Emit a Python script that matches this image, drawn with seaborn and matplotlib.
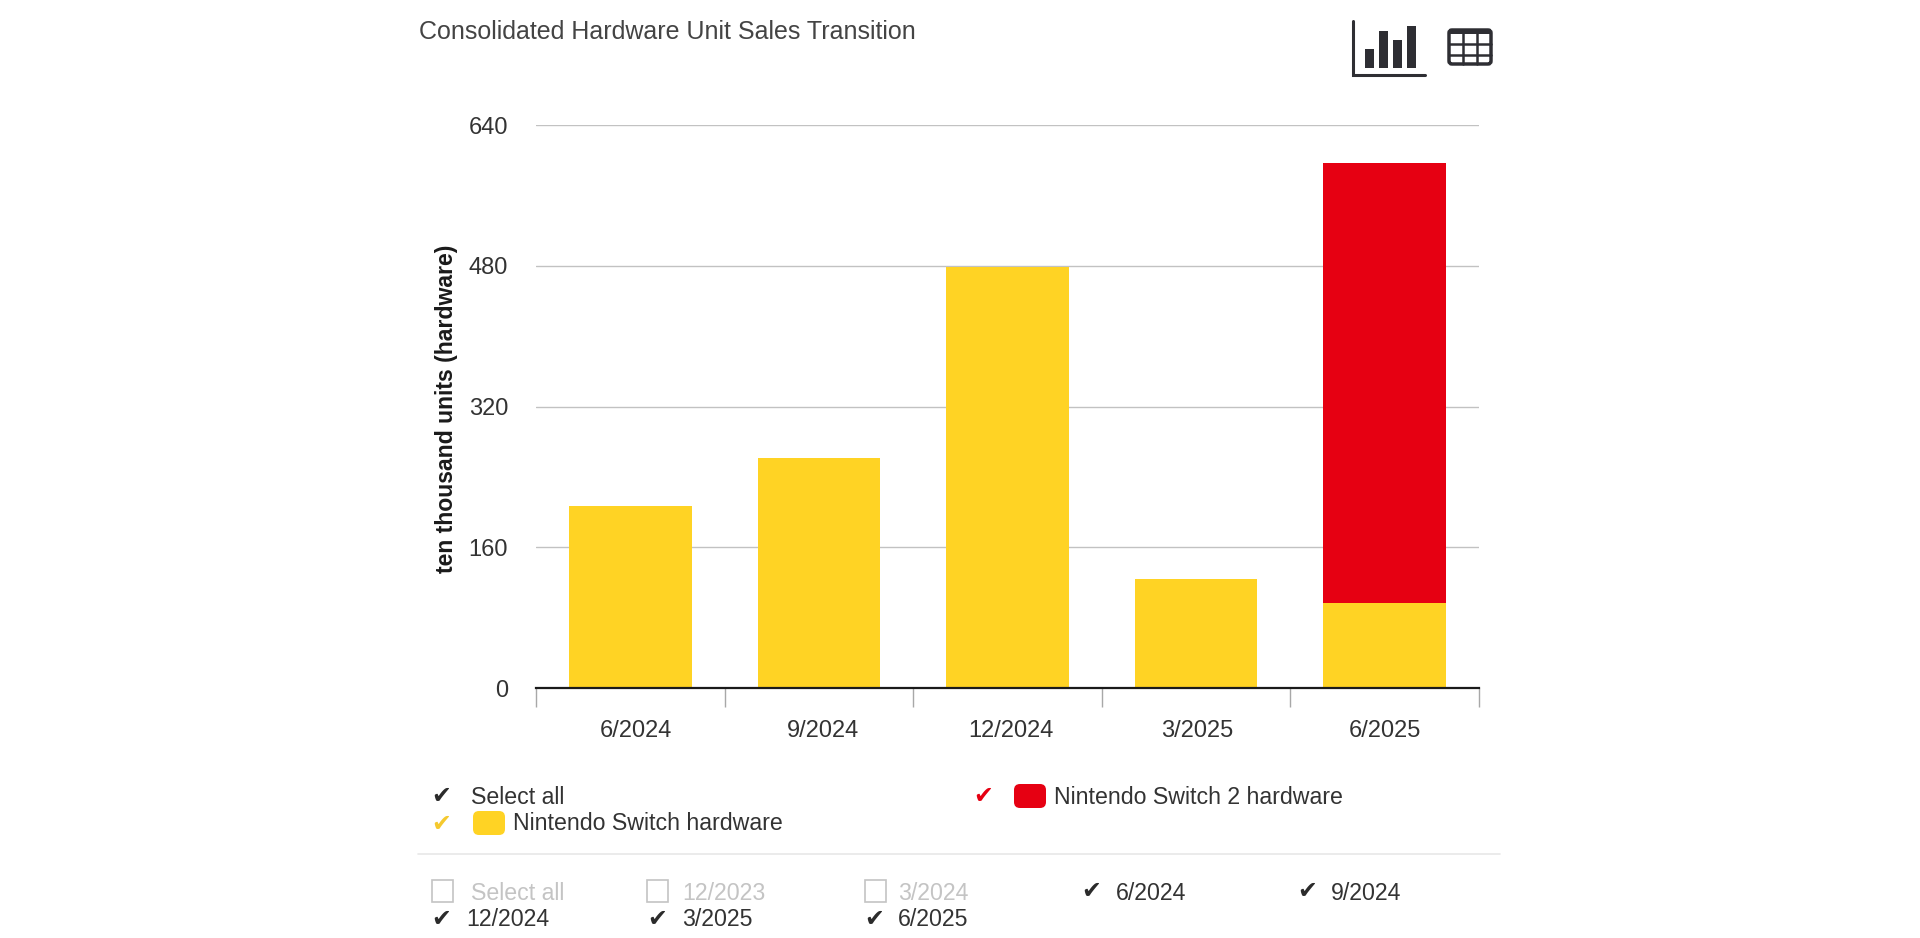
import matplotlib
matplotlib.use("Agg")
import matplotlib.pyplot as plt
from matplotlib.patches import FancyBboxPatch, Rectangle
from matplotlib.ticker import FixedLocator
import pandas as pd
import seaborn as sns

periods = ["6/2024", "9/2024", "12/2024", "3/2025", "6/2025"]
switch_units = [207, 262, 479, 124, 97]
switch2_units = [0, 0, 0, 0, 500]
y_ticks = [0, 160, 320, 480, 640]

title = "Consolidated Hardware Unit Sales Transition"
y_label = "ten thousand units (hardware)"
switch_label = "Nintendo Switch hardware"
switch2_label = "Nintendo Switch 2 hardware"
select_all = "Select all"
off_periods = ["12/2023", "3/2024"]

YELLOW = "#FFD324"
RED = "#E60012"
DARK = "#333333"
CHECK = "#2B2B2B"
FADED = "#C4C4C4"
W, H = 1920, 938

sns.set_theme(style="white")
plt.rcParams["font.family"] = ["Liberation Sans", "DejaVu Sans"]

df = pd.DataFrame({"period": periods, "switch": switch_units, "switch2": switch2_units})
df["total"] = df["switch"] + df["switch2"]

fig = plt.figure(figsize=(W / 100, H / 100), dpi=100, facecolor="white")
ax = fig.add_axes([536 / W, 1 - 688 / H, 943 / W, 563 / H])

# stacked look: the total in red, then the Switch part over it
sns.barplot(data=df, x="period", y="total", color=RED, saturation=1, width=0.65, linewidth=0, ax=ax, zorder=3)
sns.barplot(data=df, x="period", y="switch", color=YELLOW, saturation=1, width=0.65, linewidth=0, ax=ax, zorder=4)

ax.set_xlim(-0.5, 4.5)
ax.set_ylim(0, 640)
ax.set_yticks(y_ticks)
ax.yaxis.grid(True, color="#C2C2C2", linewidth=1.0, zorder=0)
ax.set_xlabel("")
ax.set_ylabel("")
# the labels sit a touch right of the bar centres, most at the left end
ax.set_xticks([i + (4 - i) * 0.008 for i in range(len(periods))], labels=periods)
ax.xaxis.set_minor_locator(FixedLocator([i - 0.5 for i in range(len(periods) + 1)]))
ax.tick_params(axis="x", which="major", length=0, pad=23, labelsize=17, labelcolor=DARK)
ax.tick_params(axis="x", which="minor", bottom=True, length=13.5, width=1, color="#A8A8A8")
ax.tick_params(axis="y", length=0, pad=20, labelsize=17, labelcolor=DARK)
for side in ["top", "right", "left"]:
    ax.spines[side].set_visible(False)
ax.spines["bottom"].set_color("#1A1A1A")
ax.spines["bottom"].set_linewidth(1.6)
ax.spines["bottom"].set_zorder(6)

# everything around the chart, placed in pixels
ui = fig.add_axes([0, 0, 1, 1], facecolor="none")
ui.set_xlim(0, W)
ui.set_ylim(H, 0)
ui.axis("off")


def label(x, y, text, color=DARK, **kw):
    ui.text(x, y, text, color=color, va="center", ha=kw.pop("ha", "left"), fontsize=kw.pop("fontsize", 16.7), **kw)


def check(x, y, color=CHECK):
    ui.text(x, y + 2, "\u2714", color=color, ha="center", va="center", fontsize=17, family="DejaVu Sans")


def swatch(x, y, color):
    ui.add_patch(FancyBboxPatch((x, y - 12), 32, 24, boxstyle="round,pad=0,rounding_size=6",
                                linewidth=0, facecolor=color))


def empty_box(x, y):
    ui.add_patch(Rectangle((x + 1, y - 11), 21, 22, facecolor="white", edgecolor=FADED, linewidth=1.2))


label(419, 32, title, color="#444444", fontsize=18)
label(446, 409, y_label, color="#1A1A1A", ha="center", rotation=90, fontweight="bold", fontsize=16.6)

# series legend
check(441, 794)
label(471, 797, select_all)
check(983, 794, RED)
swatch(1014, 796, RED)
label(1054, 797, switch2_label)
check(441, 822, "#F5C92E")
swatch(473, 823, YELLOW)
label(513, 824, switch_label)

ui.plot([418, 1500], [854, 854], color="#E8E8E8", linewidth=1.2)

# period filter
empty_box(431, 891)
label(471, 893, select_all, color=FADED)
empty_box(646, 891)
label(682, 893, off_periods[0], color=FADED)
empty_box(864, 891)
label(898, 893, off_periods[1], color=FADED)
check(1091, 889)
label(1116, 893, periods[0])
check(1307, 889)
label(1331, 893, periods[1])
check(441, 917)
label(466, 920, periods[2])
check(657, 917)
label(682, 920, periods[3])
check(874, 917)
label(898, 920, periods[4])

# chart / table icons
ICON = "#2E2E33"
ui.plot([1353, 1353, 1425], [21, 75, 75], color=ICON, linewidth=2.2, solid_joinstyle="miter")
for left, top in [(1365, 49), (1379, 31), (1393, 40), (1407, 26)]:
    ui.add_patch(Rectangle((left, top), 9, 68 - top, facecolor=ICON, edgecolor="none"))
ui.add_patch(FancyBboxPatch((1449, 30), 42, 34, boxstyle="round,pad=0,rounding_size=3",
                            facecolor="white", edgecolor=ICON, linewidth=2.5))
ui.add_patch(Rectangle((1449, 29), 42, 5, facecolor=ICON, edgecolor="none"))
for x in [1463, 1477]:
    ui.plot([x, x], [30, 64], color=ICON, linewidth=1.8)
for y in [44, 55]:
    ui.plot([1449, 1491], [y, y], color=ICON, linewidth=1.8)

fig.savefig("out.png", dpi=100)
plt.close(fig)
